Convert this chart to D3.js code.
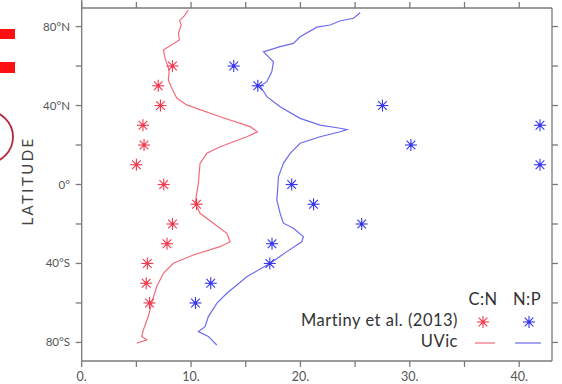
<!DOCTYPE html>
<html>
<head>
<meta charset="utf-8">
<script src="https://d3js.org/d3.v7.min.js"></script>
<style>
  body { margin: 0; background: #fff; }
  text { font-family: Lato, "Open Sans", sans-serif; }
</style>
</head>
<body>
<svg id="chart" width="562" height="384"></svg>
<script>
  // Martiny et al. (2013) observations, latitude bins
  var obsLat = [60, 50, 40, 30, 20, 10, 0, -10, -20, -30, -40, -50, -60];
  var obsCN  = [8.3, 7.0, 7.2, 5.6, 5.7, 5.0, 7.5, 10.5, 8.3, 7.8, 6.0, 5.9, 6.2];
  var obsNP  = [13.9, 16.1, 27.5, 41.9, 30.1, 41.9, 19.2, 21.2, 25.6, 17.4, 17.2, 11.8, 10.4];

  // UVic model profiles
  var uvicCNLat = [88.4, 85.5, 83, 80.8, 76.6, 73.2, 68.1, 64, 58, 52.9, 48.9, 43.8, 40.3, 34.3, 29.3, 26.7, 24.2, 19.1, 15.8, 10.7, 0.6, -9.5, -14.6, -19.6, -24.7, -29, -31.5, -35.7, -39.9, -45, -51.7, -60.1, -66.9, -73.6, -77, -78.7, -80.4];
  var uvicCN    = [9.75, 9.4, 8.95, 9.1, 8.84, 8.93, 7.47, 7.62, 8.0, 7.92, 8.23, 8.69, 9.6, 12.65, 15.4, 16.07, 15.1, 12.65, 11.44, 10.82, 10.67, 10.37, 10.82, 12.04, 13.27, 13.57, 12.65, 10.2, 8.38, 7.47, 6.86, 6.4, 6.09, 5.64, 5.49, 5.95, 5.03];
  var uvicNPLat = [87, 84.2, 82.8, 80.8, 79.7, 74.8, 71.5, 69.8, 67.2, 62.2, 57.1, 52.1, 49.9, 44.5, 39.4, 33.5, 30.1, 28.5, 27.8, 26.7, 24.2, 20.9, 15.8, 10.7, 3.9, -2.8, -7.8, -14.6, -19.6, -22.2, -26.4, -29, -34, -39.9, -46.7, -55.1, -60.2, -66.9, -72, -74.5, -77, -78.7, -81.3];
  var uvicNP    = [25.46, 24.85, 23.6, 22.72, 21.5, 19.97, 19.36, 18.14, 16.62, 17.53, 17.38, 16.93, 16.31, 16.93, 18.14, 19.97, 21.8, 23.63, 24.25, 23.63, 21.8, 19.97, 19.06, 18.44, 17.99, 17.91, 17.84, 18.14, 18.44, 19.36, 20.27, 20.12, 18.76, 17.23, 15.1, 13.27, 12.35, 11.58, 11.28, 10.67, 11.58, 11.89, 12.35];

  var xTicks = [0, 10, 20, 30, 40];
  var xMinorTicks = [5, 15, 25, 35];
  var yTicks = [80, 40, 0, -40, -80];
  var yMinorTicks = [60, 20, -20, -60];
  var yTickLabels = ["80°N", "40°N", "0°", "40°S", "80°S"];

  var cnColor = "#f2394d", cnLine = "#f36b7a";
  var npColor = "#3636ec", npLine = "#6b6bf0";
  var axisColor = "#7a7a7a", labelColor = "#555";

  var svg = d3.select("#chart");

  var x = d3.scaleLinear().domain([0, 43]).range([81.7, 552]);
  var y = d3.scaleLinear().domain([-89.4, 89.4]).range([361, 8]);

  // leftover marks from the cropped slide
  svg.append("rect").attr("x", 0).attr("y", 29).attr("width", 15).attr("height", 10).attr("fill", "#ff1010");
  svg.append("rect").attr("x", 0).attr("y", 62).attr("width", 15).attr("height", 11).attr("fill", "#ff1010");
  svg.append("circle").attr("cx", -13).attr("cy", 137).attr("r", 26)
    .attr("fill", "none").attr("stroke", "#b3283a").attr("stroke-width", 1.8);

  // frame
  var x0 = x.range()[0], x1 = x.range()[1], yTop = y.range()[1], yBot = y.range()[0];
  var frame = svg.append("g").attr("stroke", axisColor).attr("stroke-width", 1.3).attr("fill", "none");
  frame.append("line").attr("x1", x0).attr("x2", x1).attr("y1", yTop).attr("y2", yTop);
  frame.append("line").attr("x1", x0).attr("x2", x1).attr("y1", yBot).attr("y2", yBot);
  frame.append("line").attr("x1", x0).attr("x2", x0).attr("y1", 0).attr("y2", yBot);
  frame.append("line").attr("x1", x1).attr("x2", x1).attr("y1", yTop).attr("y2", yBot);

  var tl = 6;
  xTicks.concat(xMinorTicks).forEach(function(t) {
    frame.append("line").attr("x1", x(t)).attr("x2", x(t)).attr("y1", yBot).attr("y2", yBot + tl);
    frame.append("line").attr("x1", x(t)).attr("x2", x(t)).attr("y1", yTop).attr("y2", yTop - tl);
  });
  yTicks.concat(yMinorTicks).forEach(function(t) {
    frame.append("line").attr("x1", x0 - tl).attr("x2", x0).attr("y1", y(t)).attr("y2", y(t));
    frame.append("line").attr("x1", x1).attr("x2", x1 + tl).attr("y1", y(t)).attr("y2", y(t));
  });

  svg.selectAll(".xlab")
    .data(xTicks)
    .enter()
    .append("text")
      .attr("x", function(d) { return x(d); })
      .attr("y", 381)
      .attr("text-anchor", "middle")
      .attr("font-size", 12.5)
      .attr("fill", labelColor)
      .text(function(d) { return d + "."; });

  svg.selectAll(".ylab")
    .data(yTicks)
    .enter()
    .append("text")
      .attr("x", 70)
      .attr("y", function(d) { return y(d) + 4; })
      .attr("text-anchor", "end")
      .attr("font-size", 11.5)
      .attr("fill", labelColor)
      .text(function(d, i) { return yTickLabels[i]; });

  svg.append("text")
    .attr("transform", "translate(33,181) rotate(-90)")
    .attr("text-anchor", "middle")
    .attr("font-size", 15)
    .attr("letter-spacing", 2.4)
    .attr("fill", "#444")
    .text("LATITUDE");

  // model lines
  var line = d3.line()
    .x(function(d) { return x(d[0]); })
    .y(function(d) { return y(d[1]); });

  svg.append("path")
    .datum(d3.zip(uvicCN, uvicCNLat))
    .attr("fill", "none")
    .attr("stroke", cnLine)
    .attr("stroke-width", 1.2)
    .attr("d", line);

  svg.append("path")
    .datum(d3.zip(uvicNP, uvicNPLat))
    .attr("fill", "none")
    .attr("stroke", npLine)
    .attr("stroke-width", 1.2)
    .attr("d", line);

  // asterisk markers
  function star(g, cx, cy, color) {
    var r = 6, d = r * 0.72;
    var m = g.append("g").attr("transform", "translate(" + cx + "," + cy + ")")
      .attr("stroke", color).attr("stroke-width", 1.1);
    m.append("line").attr("x1", -r).attr("x2", r).attr("y1", 0).attr("y2", 0);
    m.append("line").attr("x1", 0).attr("x2", 0).attr("y1", -r).attr("y2", r);
    m.append("line").attr("x1", -d).attr("x2", d).attr("y1", -d).attr("y2", d);
    m.append("line").attr("x1", -d).attr("x2", d).attr("y1", d).attr("y2", -d);
    m.append("circle").attr("r", 1.8).attr("fill", color).attr("stroke", "none");
  }

  var pts = svg.append("g");
  obsLat.forEach(function(lat, i) {
    star(pts, x(obsCN[i]), y(lat), cnColor);
    star(pts, x(obsNP[i]), y(lat), npColor);
  });

  // legend
  var leg = svg.append("g").attr("font-size", 16.5).attr("letter-spacing", 0.5).attr("fill", "#333");
  leg.append("text").attr("x", 483).attr("y", 305).attr("text-anchor", "middle").text("C:N");
  leg.append("text").attr("x", 527).attr("y", 305).attr("text-anchor", "middle").text("N:P");
  leg.append("text").attr("x", 458).attr("y", 326).attr("text-anchor", "end").text("Martiny et al. (2013)");
  leg.append("text").attr("x", 458).attr("y", 347).attr("text-anchor", "end").text("UVic");
  star(leg, 483, 322, cnColor);
  star(leg, 529, 322, npColor);
  leg.append("line").attr("x1", 475).attr("x2", 495).attr("y1", 343).attr("y2", 343)
    .attr("stroke", cnLine).attr("stroke-width", 1.2);
  leg.append("line").attr("x1", 515).attr("x2", 541).attr("y1", 343).attr("y2", 343)
    .attr("stroke", npLine).attr("stroke-width", 1.2);
</script>
</body>
</html>
